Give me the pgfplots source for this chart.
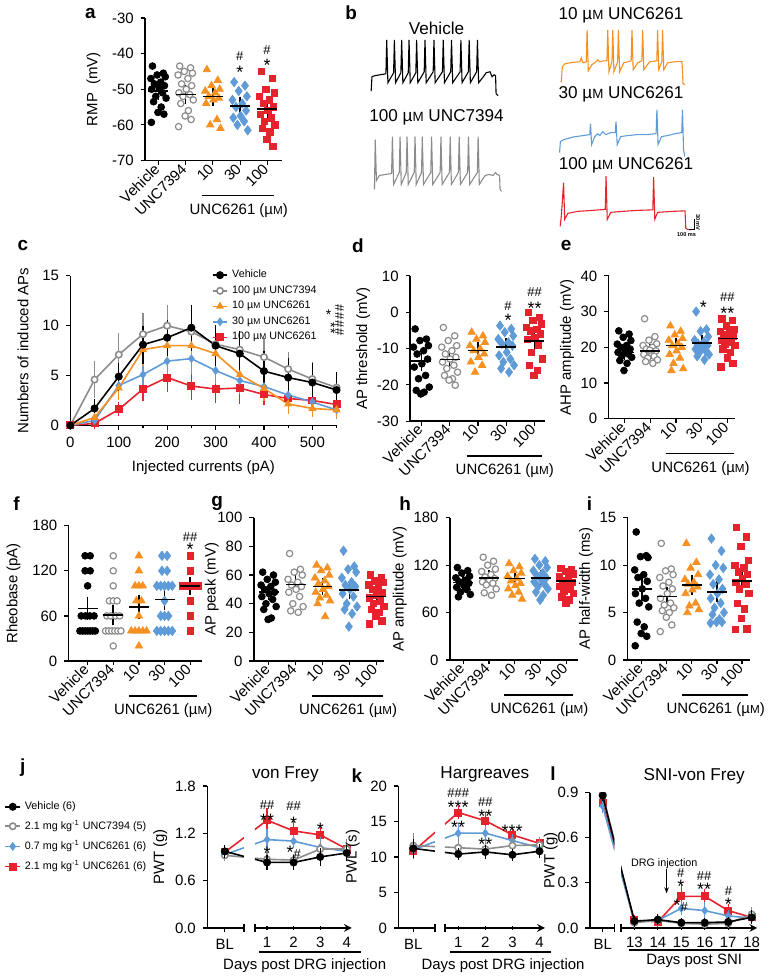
\documentclass[border=0pt]{standalone}
\usepackage{fontspec}
\setmainfont{Liberation Sans}
\usepackage{graphicx}
\usepackage{pgfplots}
\usepackage{pgfplotstable}
\pgfplotsset{compat=1.18}
\usetikzlibrary{arrows.meta}

\definecolor{gC}{RGB}{140,140,140}
\definecolor{oC}{RGB}{245,145,35}
\definecolor{bC}{RGB}{95,155,215}
\definecolor{rC}{RGB}{230,35,45}

\newcommand\tk{\fontsize{7.5}{8.5}\selectfont}
\newcommand\lgf{\fontsize{5.4}{6.2}\selectfont}
\newcommand\ttl{\fontsize{8.6}{10}\selectfont}
\newcommand\pl{\fontsize{9.5}{11}\selectfont\bfseries}
\newcommand\sa{\fontsize{9}{9}\selectfont}
\newcommand\ha{\fontsize{6.5}{7}\selectfont}
\newcommand\uM{µ\scalebox{0.78}{M}}

% scatter data: dx = jitter, v/u/o/b/r = Vehicle, UNC7394, 10, 30, 100
\pgfplotstableread{
dx v u o b r
-0.22 -43.5 -43.5 -44.5 -48 -45
0.18 -45.5 -44 -47.5 -49 -47
-0.05 -46 -45 -49 -50.5 -50
0.25 -46.5 -45.5 -50 -52 -51
-0.28 -47 -46 -50.5 -53 -52
0.08 -48 -47 -51 -54 -53
-0.15 -48.5 -48.5 -52 -55 -54
0.22 -49 -49 -52.5 -56 -55
0.02 -49.5 -50 -53 -57.5 -56
-0.25 -50 -51 -54 -58 -57
0.15 -51 -51.5 -58.5 -59 -58
-0.1 -52 -52 -60 -60 -59
0.28 -52.5 -53 -61 -61.5 -60
-0.18 -53.5 -54 nan nan -61
0.1 -55 -56 nan nan -62
-0.02 -56.5 -57.5 nan nan -64
0.2 -57 -58.5 nan nan -66
-0.26 -59.3 -60.5 nan nan nan
}\TA
\pgfplotstableread{
dx v u o b r
-0.22 -4.6 -4.2 -5.5 -3.7 0
0.18 -7.4 -6.5 -6.5 -4.6 -1.4
-0.05 -7.8 -7.8 -7.4 -5.5 -2.3
0.25 -9.2 -9.2 -8.3 -6.5 -3.2
-0.28 -9.6 -9.6 -9.2 -7.4 -4.2
0.08 -10.6 -10.6 -10.1 -8.3 -4.8
-0.15 -11.5 -11.5 -10.6 -8.7 -5.1
0.22 -12.9 -12.4 -11.5 -9.2 -6
0.02 -14.2 -12.9 -12.4 -11 -6.9
-0.25 -15.1 -13.7 -13.7 -11.9 -7.4
0.15 -17.4 -14.6 -14.6 -12.9 -9
-0.1 -18.3 -15.5 -16.5 -13.7 -11
0.28 -20.6 -16.5 nan -14.6 -12.9
-0.18 -21.5 -17.4 nan -15.5 -14.6
0.1 -22 -18.3 nan -16.5 -16
-0.02 -22.5 -18.7 nan nan -17.4
0.2 nan -20.1 nan nan nan
}\TD
\pgfplotstableread{
dx v u o b r
-0.22 24.6 28 26 30 28
0.18 23.7 23 24.5 25 27.5
-0.05 22.8 22 23.5 24.5 26
0.25 21.9 21 22.5 23 25
-0.28 20.9 20.5 22 22 24.5
0.08 20.5 20 21 21.5 24
-0.15 20 19.5 20.5 21 23.5
0.22 19.5 19 20 20.5 23
0.02 19.1 18.5 19 20 22.5
-0.25 18.6 18 18 19.5 22
0.15 18.1 17.5 17 19 21.5
-0.1 17.6 17 15.5 18.5 21
0.28 17.2 16.5 14 18 20.5
-0.18 16.3 16 13.5 17.5 19.5
0.1 15.5 15.5 nan 16.5 18.5
-0.02 13.5 19.2 nan nan 17
0.2 nan nan nan nan 15.5
-0.26 nan nan nan nan 14.5
}\TE
\pgfplotstableread{
dx v u o b r
-0.22 62 75 67 77 60
0.18 60 64 65 66 58
-0.05 57 62 63 64 56
0.25 55 60 60 62 55
-0.28 53 57 58 58 53
0.08 52 55 56 55 51
-0.15 50 53 54 53 50
0.22 48 52 52 52 48
0.02 47 50 50 50 46
-0.25 45 48 48 47 44
0.15 43 45 46 45 42
-0.1 40 40 44 40 40
0.28 38 38 42 38 38
-0.18 36 35 40 36 36
0.1 30 34 31 33 34
-0.02 29 nan nan 24 31
0.2 nan nan nan nan 28
-0.26 nan nan nan nan 26
}\TG
\pgfplotstableread{
dx v u o b r
-0.22 117 130 122 128 116
0.18 113 125 118 125 114
-0.05 110 120 113 120 112
0.25 106 115 110 117 109
-0.28 104 112 106 113 106
0.08 101 108 103 110 103
-0.15 99 105 100 107 100
0.22 97 103 97 104 98
0.02 95 101 94 102 96
-0.25 92 99 90 99 93
0.15 89 97 86 96 90
-0.1 86 95 82 93 87
0.28 83 90 77 90 84
-0.18 80 85 nan 86 80
0.1 nan 82 nan 82 76
-0.02 nan nan nan 76 72
}\TH
\pgfplotstableread{
dx v u o b r
-0.22 13.5 12.3 12.3 12.8 14
0.18 11 9.6 10.3 11.5 13
-0.05 10.9 9.4 9.7 10 12
0.25 10.8 9 9 9.7 10.5
-0.28 9.5 8.7 8.5 9 10
0.08 9 8.2 8.2 8.5 9.7
-0.15 8.7 7.8 8 8 9.3
0.22 8.3 7.5 7.7 7.5 9
0.02 7.5 7 7.4 7 8.6
-0.25 7 6.5 7 6.5 8.2
0.15 6.5 6 6 6 8
-0.1 6 5.8 5.7 5.5 7.5
0.28 5.6 5.5 5.3 5 7
-0.18 4 5.2 5 4.8 6
0.1 3.5 5 nan 4.3 5.4
-0.02 2.8 4.5 nan 4 4.4
0.2 2.5 3.7 nan 4 3.3
-0.26 1.5 3 nan 3.9 3.2
}\TI

\pgfplotsset{
  gp/.style={scale only axis, anchor=south west, axis lines=left,
    axis line style={-, line width=0.75pt},
    every tick/.style={black, line width=0.6pt}, tick align=outside,
    major tick length=2.2pt, minor tick length=1.3pt,
    tick label style={font=\tk}, label style={font=\tk},
    clip=false, /pgf/number format/assume math mode=true,
    xtick pos=bottom, ytick pos=left},
  sc/.style={gp, xtick={0,1,2,3,4}, xticklabels={Vehicle,UNC7394,10,30,100},
    xticklabel style={rotate=45, anchor=east, inner sep=1pt}},
  mV/.style={only marks, mark=*, mark size=1.7pt, black},
  mU/.style={only marks, mark=*, mark size=1.6pt, gC, mark options={fill=white, line width=0.6pt}},
  mO/.style={only marks, mark=triangle*, mark size=2.1pt, oC},
  mB/.style={only marks, mark=diamond*, mark size=2.3pt, bC},
  mR/.style={only marks, mark=square*, mark size=1.6pt, rC},
  mean/.style={black, only marks, mark=-, mark size=5pt, mark options={line width=0.8pt},
    error bars/.cd, y dir=both, y explicit, error bar style={line width=0.8pt, black},
    error mark options={black, line width=0.8pt, mark size=2.5pt}},
  lS/.style={line width=0.8pt, mark size=1.6pt,
    error bars/.cd, y dir=both, y explicit, error bar style={line width=0.6pt},
    error mark options={line width=0.6pt, mark size=2pt}},
  lV/.style={black, mark=*, lS},
  lU/.style={gC, mark=*, mark options={fill=white}, lS},
  lO/.style={oC, mark=triangle*, lS},
  lB/.style={bC, mark=diamond*, mark size=2pt, lS},
  lR/.style={rC, mark=square*, mark size=1.5pt, lS},
  lgimg/.style={legend cell align=left, legend image code/.code={\draw[mark repeat=2, mark phase=2] plot coordinates {(0cm,0cm) (0.13cm,0cm) (0.26cm,0cm)};}},
  brk/.style={gp, clip=true, clip marker paths=true, ymin=0},
}

\newcommand\scat[1]{%
  \addplot[mV] table[x expr=\thisrow{dx}, y=v]{#1};
  \addplot[mU] table[x expr=\thisrow{dx}+1, y=u]{#1};
  \addplot[mO] table[x expr=\thisrow{dx}+2, y=o]{#1};
  \addplot[mB] table[x expr=\thisrow{dx}+3, y=b]{#1};
  \addplot[mR] table[x expr=\thisrow{dx}+4, y=r]{#1};}
\newcommand\grp[1]{%
  \draw[line width=0.7pt] ([yshift=-17.5pt]axis cs:1.6,#1) -- ([yshift=-17.5pt]axis cs:4.25,#1);
  \node[font=\tk] at ([yshift=-25pt]axis cs:2.95,#1) {UNC6261 (\uM)};}

\begin{document}
\begin{tikzpicture}
\begin{scope}[x=0.5pt,y=-0.5pt]
\path[use as bounding box] (0,0) rectangle (765,979);
\end{scope}

% ---------- a ----------
\begin{axis}[sc, at={(68pt,-80.5pt)}, width=68.5pt, height=71.5pt, ylabel shift=-1pt,
  xmin=-0.49, xmax=4.53, ymin=-70, ymax=-30, ytick={-70,-60,...,-30}, ylabel={RMP\ \ (mV)}]
\scat{\TA}
\addplot[mean] coordinates {(0,-50.5)+-(0,1) (1,-51.5)+-(0,1.2) (2,-52)+-(0,1.2) (3,-54.7)+-(0,1.2) (4,-55.5)+-(0,1.3)};
\grp{-70}
\end{axis}

% ---------- b (traces) ----------
\begin{axis}[at={(150pt,-135pt)}, anchor=south west, scale only axis, width=232.5pt, height=135pt,
  xmin=300, xmax=765, ymin=0, ymax=270, y dir=reverse, hide axis, clip=false]
\addplot[black, line width=0.55pt] coordinates {(362.7,91.5) (363.5,77) (366,76) (377.5,74) (378.3,40) (379.5,83) (385.2,73) (386,40) (387.2,83) (392.5,73) (393.3,40) (394.5,83) (399.9,73) (400.7,40) (401.9,83) (407.5,73) (408.3,40) (409.5,83) (415.9,72) (416.7,40) (417.9,83) (424.9,72) (425.7,40) (426.9,83) (434.2,72) (435,40) (436.2,83) (442.5,72) (443.3,40) (444.5,83) (451.9,72) (452.7,40) (453.9,83) (460.2,72) (461,40) (462.2,83) (468.5,72) (469.3,40) (470.5,83) (476,76) (478,73) (482,72) (484,77) (486,75) (487.5,76) (488,94) (490,96)};
\addplot[gC, line width=0.55pt] coordinates {(366,190) (366.8,140) (368,181) (371,176) (383.2,174) (384,137) (385.2,185) (390.9,173) (391.7,137) (392.9,185) (397.9,173) (398.7,137) (399.9,185) (405.9,173) (406.7,137) (407.9,185) (413.2,173) (414,137) (415.2,185) (422.5,173) (423.3,137) (424.5,185) (431.9,173) (432.7,137) (433.9,185) (441.2,173) (442,137) (443.2,185) (450.2,173) (451,137) (452.2,185) (459.5,173) (460.3,137) (461.5,185) (469.2,173) (470,137) (471.2,185) (477,176) (481,175) (485,176) (487.5,173) (489,175) (491.5,176) (492,190) (493.5,192)};
\addplot[oC, line width=0.55pt] coordinates {(553.3,82.7) (554.5,67) (557,64) (565,62.5) (572,62) (573.5,58) (575,63) (578.5,62) (579.3,30) (580.5,71) (584,65) (588,62) (590,60) (592,62) (596,61) (599.2,61) (600,30) (601.2,72) (604.2,62) (605,30) (606.2,72) (609.9,62) (610.7,30) (611.9,72) (616,63) (620,62) (623.5,61) (624.3,30) (625.5,70) (630,63) (634.2,61) (635,30) (636.2,70) (642,62) (649.2,61) (650,30) (651.2,70) (654.2,62) (655,30) (656.2,70) (660,63) (667,62) (672,61.5) (674.5,62) (675.5,84) (677.3,85)};
\addplot[bC, line width=0.55pt] coordinates {(551.7,153) (552.5,142) (556,140) (565,137.5) (575,136) (582,135) (582.7,124) (583.8,145) (587,137) (590,134) (592,136) (595,132) (598,135) (603,133) (607.5,133) (608.3,122) (609.5,145) (613,137) (620,136) (630,135) (640,135) (648.5,134) (649.3,110) (650.5,145) (654,137) (660,136) (668,134) (674.2,133) (675,110) (676,150) (677.3,157)};
\addplot[rC, line width=0.55pt] coordinates {(552.3,227) (553.5,216) (555.7,183.3) (556.8,220) (560,214) (570,212) (585,211) (597.5,210) (598.3,176.7) (599.5,220) (603,213) (615,212) (630,211) (645.2,210.5) (646,177.3) (647.2,220) (650,213) (665,212) (677.5,211.5) (678.3,229) (680,230) (683.3,230.5)};
\end{axis}

% ---------- c ----------
\begin{axis}[gp, at={(30.5pt,-213.35pt)}, width=133.5pt, height=75pt,
  xmin=0, xmax=550, ymin=0, ymax=15, xtick={0,100,...,500}, minor xtick={50,150,...,550},
  ytick={0,5,10,15}, xlabel={Injected currents (pA)}, ylabel={Numbers of induced APs},
  lgimg, reverse legend,
  legend style={at={(0.53,1.07)}, anchor=north west, draw=none, fill=none, font=\lgf, row sep=-1.5pt, inner sep=0pt}]
\addplot[lR] coordinates {(0,0)+-(0,0) (50,0.2)+-(0,0.2) (100,1.6)+-(0,0.3) (150,3.65)+-(0,0.8) (200,4.8)+-(0,1) (250,3.95)+-(0,1) (300,3.65)+-(0,1) (350,3.75)+-(0,1.2) (400,3.1)+-(0,0.7) (450,2.7)+-(0,0.6) (500,2.5)+-(0,0.7) (550,2.1)+-(0,0.6)};
\addlegendentry{100 \uM\ UNC6261}
\addplot[lB] coordinates {(0,0)+-(0,0) (50,0.5)+-(0,0.3) (100,4.0)+-(0,0.9) (150,5.1)+-(0,0.9) (200,6.45)+-(0,0.9) (250,6.7)+-(0,1.1) (300,5.5)+-(0,0.9) (350,4.5)+-(0,0.9) (400,3.9)+-(0,0.8) (450,3.05)+-(0,0.7) (500,2.35)+-(0,0.7) (550,1.55)+-(0,0.5)};
\addlegendentry{30 \uM\ UNC6261}
\addplot[lO] coordinates {(0,0)+-(0,0) (50,0.8)+-(0,0.3) (100,3.75)+-(0,0.8) (150,7.6)+-(0,1.2) (200,8.0)+-(0,1.1) (250,8.0)+-(0,1.1) (300,7.2)+-(0,1.0) (350,5.1)+-(0,1.0) (400,3.7)+-(0,0.9) (450,2.15)+-(0,0.6) (500,1.7)+-(0,0.5) (550,1.55)+-(0,0.4)};
\addlegendentry{10 \uM\ UNC6261}
\addplot[lU] coordinates {(0,0)+-(0,0) (50,4.6)+-(0,1.5) (100,7.1)+-(0,1.8) (150,9.15)+-(0,1.7) (200,10)+-(0,1.7) (250,9.4)+-(0,1.5) (300,8.15)+-(0,1.5) (350,7.6)+-(0,1.4) (400,6.85)+-(0,1.5) (450,5.65)+-(0,1.3) (500,4.65)+-(0,1.3) (550,3.8)+-(0,1.2)};
\addlegendentry{100 \uM\ UNC7394}
\addplot[lV] coordinates {(0,0)+-(0,0) (50,1.7)+-(0,0.5) (100,4.9)+-(0,1) (150,8.1)+-(0,1.5) (200,8.8)+-(0,1.4) (250,9.8)+-(0,1.9) (300,8.0)+-(0,1.7) (350,7.2)+-(0,1.9) (400,5.45)+-(0,1.6) (450,4.8)+-(0,1.6) (500,4.3)+-(0,1.6) (550,3.55)+-(0,1.4)};
\addlegendentry{Vehicle}
\end{axis}

% ---------- d ----------
\begin{axis}[sc, at={(200.85pt,-211.25pt)}, width=67.5pt, height=72.9pt, ylabel shift=-3.5pt,
  xmin=-0.4, xmax=4.36, ymin=-30, ymax=10, ytick={-30,-20,...,10}, ylabel={AP threshold (mV)}]
\scat{\TD}
\addplot[mean] coordinates {(0,-13.5)+-(0,1.3) (1,-13)+-(0,1) (2,-10.5)+-(0,1) (3,-9.5)+-(0,1) (4,-8)+-(0,1.3)};
\grp{-30}
\end{axis}

% ---------- e ----------
\begin{axis}[sc, at={(300.5pt,-210pt)}, width=63.5pt, height=71.65pt, ylabel shift=-3.5pt,
  xmin=-0.61, xmax=4.3, ymin=0, ymax=40, ytick={0,10,...,40}, ylabel={AHP amplitude (mV)}]
\scat{\TE}
\addplot[mean] coordinates {(0,18.5)+-(0,0.6) (1,19)+-(0,0.6) (2,20.5)+-(0,0.8) (3,21.2)+-(0,0.8) (4,22.5)+-(0,0.9)};
\grp{0}
\end{axis}

% ---------- f ----------
\begin{axis}[sc, at={(29.65pt,-331.5pt)}, width=66.85pt, height=67.85pt, ylabel shift=-1pt,
  xmin=-0.74, xmax=4.46, ymin=0, ymax=180, ytick={0,60,120,180}, ylabel={Rheobase (pA)}]
\addplot[mV] coordinates {(-0.1,140) (0.1,140) (-0.1,120) (0.1,120) (0,100) (-0.25,60) (-0.08,60) (0.08,60) (0.25,60) (-0.3,40) (-0.2,40) (-0.1,40) (0,40) (0.1,40) (0.2,40) (0.3,40)};
\addplot[mU] coordinates {(1,140) (1,120) (1,100) (0.85,80) (1,80) (1.15,80) (0.75,60) (0.9,60) (1.1,60) (1.25,60) (0.7,40) (0.82,40) (0.94,40) (1.06,40) (1.18,40) (1.3,40) (1,20)};
\addplot[mO] coordinates {(2,140) (2,120) (1.85,100) (2,100) (2.15,100) (1.9,80) (2.1,80) (2,60) (1.7,40) (1.85,40) (2,40) (2.15,40) (2.3,40) (2,20)};
\addplot[mB] coordinates {(2.9,140) (3.1,140) (2.9,120) (3.1,120) (2.7,100) (2.85,100) (3,100) (3.15,100) (3.3,100) (3,80) (2.85,60) (3,60) (3.15,60) (2.7,40) (2.85,40) (3,40) (3.15,40) (3.3,40)};
\addplot[mR] coordinates {(4,140) (4,120) (3.7,100) (3.85,100) (4,100) (4.15,100) (4.3,100) (4,80) (4,60) (4,40)};
\addplot[mean] coordinates {(0,70)+-(0,9) (1,61)+-(0,7) (2,72)+-(0,9) (3,82)+-(0,8) (4,100)+-(0,5)};
\grp{0}
\end{axis}

% ---------- g ----------
\begin{axis}[sc, at={(122.5pt,-331.5pt)}, width=65.5pt, height=71.85pt, ylabel shift=-7.5pt,
  xmin=-0.55, xmax=4.3, ymin=0, ymax=100, ytick={0,20,...,100}, ylabel={AP peak (mV)}]
\scat{\TG}
\addplot[mean] coordinates {(0,48)+-(0,2.2) (1,53.5)+-(0,2.8) (2,52)+-(0,2.5) (3,49.5)+-(0,3) (4,45)+-(0,2.3)};
\grp{0}
\end{axis}

% ---------- h ----------
\begin{axis}[sc, at={(220.85pt,-331pt)}, width=64.15pt, height=71.35pt, ylabel shift=-3.5pt,
  xmin=-0.51, xmax=4.44, ymin=0, ymax=180, ytick={0,60,120,180}, ylabel={AP amplitude (mV)}]
\scat{\TH}
\addplot[mean] coordinates {(0,98)+-(0,3) (1,104)+-(0,3.5) (2,103)+-(0,4) (3,104)+-(0,3.5) (4,100)+-(0,3)};
\grp{0}
\end{axis}

% ---------- i ----------
\begin{axis}[sc, at={(310pt,-331pt)}, width=61.5pt, height=71.35pt, ylabel shift=-3.5pt,
  xmin=-0.56, xmax=4.33, ymin=0, ymax=15, ytick={0,5,10,15}, ylabel={AP half-width (ms)}]
\scat{\TI}
\addplot[mean] coordinates {(0,7.5)+-(0,0.8) (1,6.7)+-(0,0.5) (2,7.9)+-(0,0.5) (3,7.2)+-(0,0.6) (4,8.3)+-(0,0.7)};
\grp{0}
\end{axis}

% ---------- j ----------
\begin{axis}[brk, at={(99.15pt,-465.35pt)}, width=18.35pt, height=71.2pt, ylabel shift=-3pt,
  xmin=-1.24, xmax=0.13, ymax=1.8, ytick={0,0.6,1.2,1.8}, xtick={-0.58}, xticklabels={BL},
  yticklabel style={/pgf/number format/.cd, fixed, fixed zerofill, precision=1},
  ylabel={PWT (g)}, lgimg, reverse legend,
  legend style={at={(-5.55,0.64)}, anchor=west, draw=none, fill=none, font=\lgf, row sep=0pt, inner sep=0pt}]
\addplot[lR] coordinates {(-0.58,0.96)+-(0,0.03) (1,1.365)+-(0,0.1)};
\addlegendentry{2.1 mg kg\textsuperscript{-1} UNC6261 (6)}
\addplot[lB] coordinates {(-0.58,0.93)+-(0,0.02) (1,1.12)+-(0,0.08)};
\addlegendentry{0.7 mg kg\textsuperscript{-1} UNC6261 (6)}
\addplot[lU] coordinates {(-0.58,0.92)+-(0,0.02) (1,0.87)+-(0,0.04)};
\addlegendentry{2.1 mg kg\textsuperscript{-1} UNC7394 (5)}
\addplot[lV] coordinates {(-0.58,0.97)+-(0,0.03) (1,0.83)+-(0,0.04)};
\addlegendentry{Vehicle (6)}
\end{axis}
\begin{axis}[brk, axis y line=none, axis x line=bottom, at={(123pt,-465.35pt)}, width=48.65pt, height=71.2pt,
  xmin=0.54, xmax=4.19, ymax=1.8, xtick={1,2,3,4}]
\addplot[lR] coordinates {(-0.58,0.96)+-(0,0.03) (1,1.365)+-(0,0.1) (2,1.23)+-(0,0.09) (3,1.18)+-(0,0.05) (4,1.0)+-(0,0.04)};
\addplot[lB] coordinates {(-0.58,0.93)+-(0,0.02) (1,1.12)+-(0,0.08) (2,1.10)+-(0,0.03) (3,1.02)+-(0,0.08) (4,0.97)+-(0,0.04)};
\addplot[lU] coordinates {(-0.58,0.92)+-(0,0.02) (1,0.87)+-(0,0.04) (2,0.86)+-(0,0.03) (3,1.0)+-(0,0.05) (4,1.0)+-(0,0.08)};
\addplot[lV] coordinates {(-0.58,0.97)+-(0,0.03) (1,0.83)+-(0,0.04) (2,0.83)+-(0,0.04) (3,0.90)+-(0,0.06) (4,0.95)+-(0,0.05)};
\end{axis}

% ---------- k ----------
\begin{axis}[brk, at={(195pt,-465.35pt)}, width=18.35pt, height=71.2pt, ylabel shift=-1.5pt,
  xmin=-1.2, xmax=0.15, ymax=20, ytick={0,5,...,20}, xtick={-0.65}, xticklabels={BL}, ylabel={PWL (s)}]
\addplot[lR] coordinates {(-0.65,10.8)+-(0,0.6) (1,16.25)+-(0,0.4)};
\addplot[lB] coordinates {(-0.65,11.0)+-(0,0.8) (1,13.35)+-(0,0.8)};
\addplot[lU] coordinates {(-0.65,11.6)+-(0,1.2) (1,11.3)+-(0,0.6)};
\addplot[lV] coordinates {(-0.65,11.2)+-(0,0.8) (1,10.4)+-(0,0.3)};
\end{axis}
\begin{axis}[brk, axis y line=none, axis x line=bottom, at={(218.35pt,-465.35pt)}, width=50.15pt, height=71.2pt,
  xmin=0.51, xmax=4.2, ymax=20, xtick={1,2,3,4}]
\addplot[lR] coordinates {(-0.65,10.8)+-(0,0.6) (1,16.25)+-(0,0.4) (2,15.1)+-(0,0.6) (3,13.1)+-(0,0.4) (4,11.9)+-(0,0.4)};
\addplot[lB] coordinates {(-0.65,11.0)+-(0,0.8) (1,13.35)+-(0,0.8) (2,13.35)+-(0,0.4) (3,12.3)+-(0,0.4) (4,11.3)+-(0,0.4)};
\addplot[lU] coordinates {(-0.65,11.6)+-(0,1.2) (1,11.3)+-(0,0.6) (2,11.1)+-(0,0.7) (3,11.6)+-(0,0.5) (4,11.7)+-(0,0.5)};
\addplot[lV] coordinates {(-0.65,11.2)+-(0,0.8) (1,10.4)+-(0,0.3) (2,10.7)+-(0,0.4) (3,10.3)+-(0,0.3) (4,10.8)+-(0,0.4)};
\end{axis}

% ---------- l ----------
\begin{axis}[brk, at={(291pt,-465.35pt)}, width=12.35pt, height=67.85pt, ylabel shift=-7pt,
  xmin=11.1, xmax=12.15, ymax=0.9, ytick={0,0.3,0.6,0.9}, xtick={11.65}, xticklabels={BL},
  yticklabel style={/pgf/number format/.cd, fixed, fixed zerofill, precision=1}, ylabel={PWT (g)}]
\addplot[lR] coordinates {(11.65,0.83)+-(0,0.01) (13,0.05)+-(0,0.01)};
\addplot[lB] coordinates {(11.65,0.81)+-(0,0.02) (13,0.04)+-(0,0.01)};
\addplot[lU] coordinates {(11.65,0.89)+-(0,0.01) (13,0.035)+-(0,0.01)};
\addplot[lV] coordinates {(11.65,0.88)+-(0,0.01) (13,0.045)+-(0,0.01)};
\end{axis}
\begin{axis}[brk, axis y line=none, axis x line=bottom, at={(306.65pt,-465.35pt)}, width=68.35pt, height=67.85pt,
  xmin=12.43, xmax=18.24, ymax=0.9, xtick={13,...,18}]
\addplot[lR] coordinates {(11.65,0.83)+-(0,0.01) (13,0.05)+-(0,0.01) (14,0.04)+-(0,0.01) (15,0.21)+-(0,0.05) (16,0.21)+-(0,0.02) (17,0.115)+-(0,0.015) (18,0.07)+-(0,0.01)};
\addplot[lB] coordinates {(11.65,0.81)+-(0,0.02) (13,0.04)+-(0,0.01) (14,0.05)+-(0,0.01) (15,0.13)+-(0,0.02) (16,0.115)+-(0,0.03) (17,0.08)+-(0,0.01) (18,0.065)+-(0,0.01)};
\addplot[lU] coordinates {(11.65,0.89)+-(0,0.01) (13,0.035)+-(0,0.01) (14,0.05)+-(0,0.01) (15,0.03)+-(0,0.005) (16,0.025)+-(0,0.005) (17,0.03)+-(0,0.005) (18,0.09)+-(0,0.02)};
\addplot[lV] coordinates {(11.65,0.88)+-(0,0.01) (13,0.045)+-(0,0.01) (14,0.055)+-(0,0.01) (15,0.035)+-(0,0.005) (16,0.035)+-(0,0.005) (17,0.04)+-(0,0.005) (18,0.07)+-(0,0.02)};
\end{axis}

% ---------- text, letters, annotations ----------
\begin{scope}[x=0.5pt,y=-0.5pt, st/.style={font=\sa, inner sep=0pt, yshift=-2pt}, hs/.style={font=\ha, inner sep=0pt}]
\foreach \t/\x/\y in {a/81/14, b/342.7/12.3, c/13.3/246.7, d/349.3/246.7, e/558.3/246.7, f/7/505, g/208.3/505, h/396.7/505, i/581.7/505, j/13.3/770, k/348.3/778.3, l/545/776}
  \node[font=\pl, inner sep=0pt] at (\x,\y) {\t};
% b labels and scale bar
\node[font=\ttl] at (428.3,28.3) {Vehicle};
\node[font=\ttl] at (428.3,117.7) {100 \uM\ UNC7394};
\node[font=\ttl] at (613.3,15.7) {10 \uM\ UNC6261};
\node[font=\ttl] at (613.3,95) {30 \uM\ UNC6261};
\node[font=\ttl] at (618.3,165.7) {100 \uM\ UNC6261};
\draw[line width=0.5pt] (681.7,230) -- (686.7,230) -- (686.7,220);
\node[font=\fontsize{2.8}{3}\selectfont\bfseries, inner sep=0pt] at (679,235.5) {100 ms};
\node[font=\fontsize{2.8}{3}\selectfont\bfseries, inner sep=0pt, rotate=-90] at (690.5,223) {30 mV};
% a
\node[hs] at (231,56.7) {\#}; \node[st] at (231,69) {*};
\node[hs] at (258.3,50) {\#}; \node[st] at (258.3,61.7) {*};
% c
\node[font=\fontsize{7}{7}\selectfont, inner sep=0pt] at (320,316) {*};
\node[hs, rotate=-90] at (331,313) {\#\#};
\node[font=\fontsize{7}{7}\selectfont, inner sep=0pt, rotate=-90] at (322,329) {**};
\node[hs, rotate=-90] at (331,329) {\#\#};
% d
\node[hs] at (500,307.3) {\#}; \node[st] at (500,317.3) {*};
\node[hs] at (526.7,293.3) {\#\#}; \node[st] at (526.7,305) {**};
% e
\node[st] at (696,304.3) {*};
\node[hs] at (720,298.3) {\#\#}; \node[st] at (720,310) {**};
% f
\node[hs] at (181,538.3) {\#\#}; \node[st] at (181,546.7) {*};
% j
\draw[line width=0.7pt] (235,926.7) -- (235,934.7); \draw[line width=0.7pt] (246,926.7) -- (246,934.7);
\draw[line width=0.7pt] (250,955) -- (352.7,955);
\node[font=\tk] at (296,968.3) {Days post DRG injection};
\node[font=\ttl] at (276.7,776.7) {von Frey};
\node[hs] at (258.3,807.3) {\#\#}; \node[st] at (258.3,818.3) {**}; \node[st] at (258.3,851.7) {*};
\node[hs] at (285,808) {\#\#}; \node[st] at (285,822) {*}; \node[inner sep=0pt] at (285,855) {{\sa*}{\ha\#}};
\node[st] at (311.7,828) {*};
% k
\draw[line width=0.7pt] (426.7,926.7) -- (426.7,934.7); \draw[line width=0.7pt] (436.7,926.7) -- (436.7,934.7);
\draw[line width=0.7pt] (441.7,955) -- (543.3,955);
\node[font=\tk] at (495,968.3) {Days post DRG injection};
\node[font=\ttl] at (476.7,776.7) {Hargreaves};
\node[hs] at (450,795) {\#\#\#}; \node[st] at (450,805.7) {***}; \node[st] at (450,826) {**};
\node[hs] at (477.3,804) {\#\#}; \node[st] at (477.3,815) {**}; \node[st] at (477.3,843.3) {**};
\node[st] at (504,830) {***};
% l
\draw[line width=0.7pt] (606.7,926.7) -- (606.7,934.7); \draw[line width=0.7pt] (613.3,926.7) -- (613.3,934.7);
\draw[line width=0.7pt] (621.7,952.7) -- (751.7,952.7);
\node[font=\tk] at (686.7,963.3) {Days post SNI};
\node[font=\ttl] at (686.7,778.3) {SNI-von Frey};
\node[font=\lgf] at (656.7,866.7) {DRG injection};
\draw[-{Stealth[length=3pt]}, line width=0.6pt] (659,872) -- (659,896);
\node[hs] at (673.3,876) {\#}; \node[st] at (673.3,885) {*}; \node[inner sep=0pt] at (673.3,908.3) {{\sa*}{\ha\#}};
\node[hs] at (696.7,878.3) {\#\#}; \node[st] at (696.7,888.3) {**};
\node[hs] at (721,893.3) {\#}; \node[st] at (721,903.3) {*};
\end{scope}
\end{tikzpicture}
\end{document}
